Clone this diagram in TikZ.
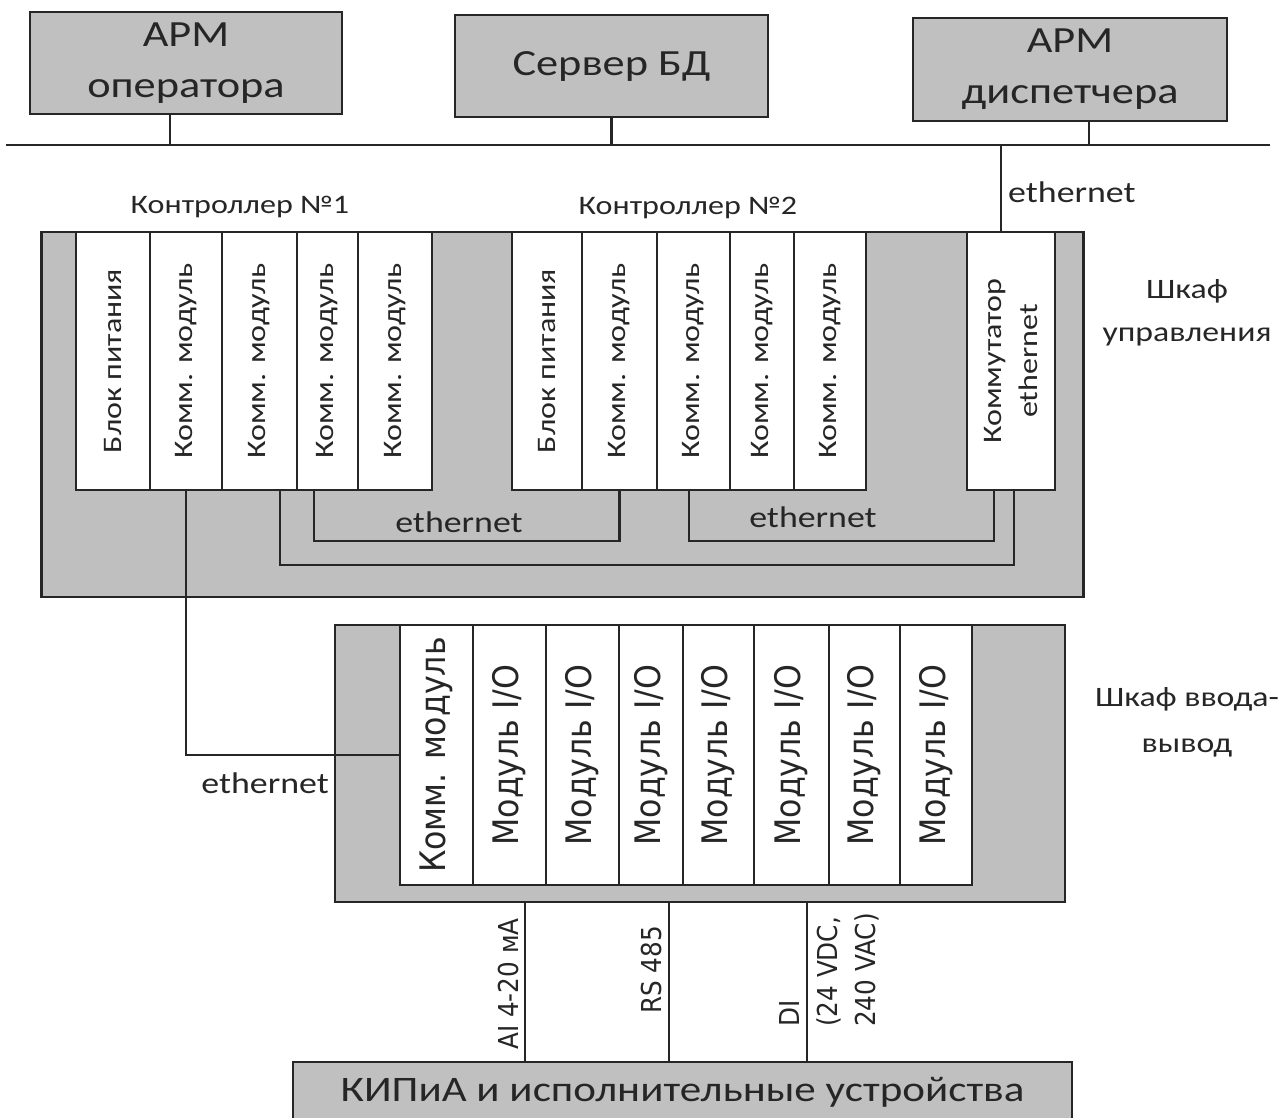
\documentclass[tikz,border=0pt]{standalone}
\usepackage{fontspec}
\setmainfont{Carlito}[FakeStretch=1.2]
\newfontfamily\iofont{DejaVu Sans}[FakeStretch=0.9]
\usepackage{xcolor}
\definecolor{ink}{HTML}{262626}
\definecolor{cabinet}{HTML}{BFBFBF}
\definecolor{station}{HTML}{C0C0C0}

\begin{document}
\begin{tikzpicture}[
    x=0.01cm, y=-0.01cm,
    color=ink,
    font=\fontsize{8}{10}\selectfont,
    wire/.style={draw=ink, line width=0.7pt},
    station/.style={draw=ink, fill=station, line width=0.7pt, inner sep=0pt, outer sep=0pt, align=center, font=\fontsize{10.5}{14.5}\selectfont},
    cabinet/.style={draw=ink, fill=cabinet, line width=0.7pt, inner sep=0pt, outer sep=0pt},
    slot/.style={draw=ink, fill=white, line width=0.7pt, rotate=90, inner sep=0pt, outer sep=0pt, align=center, minimum width=2.58cm, font=\fontsize{7.6}{10}\selectfont},
    ioslot/.style={slot, minimum width=2.60cm, font=\iofont\fontsize{10}{11}\selectfont},
    caption/.style={align=center, inner sep=1pt, font=\fontsize{8}{12.2}\selectfont},
    netlabel/.style={inner sep=1pt, font=\fontsize{8.5}{10}\selectfont},
    signal/.style={rotate=90, align=left, inner sep=1pt, font=\iofont\fontsize{7.8}{10.8}\selectfont}
]
\useasboundingbox (0,0) rectangle (1284,1117);

% Upper level: workstations and bus.
\node[station, minimum width=3.12cm, minimum height=1.02cm] (armop) at (186,63) {АРМ\\оператора};
\node[station, minimum width=3.13cm, minimum height=1.02cm] (dbsrv) at (611.5,66) {Сервер БД};
\node[station, minimum width=3.14cm, minimum height=1.03cm] (armdisp) at (1070,69.5) {АРМ\\диспетчера};

\coordinate (busL) at (6,145);
\coordinate (busR) at (1270,145);
\draw[wire] (busL) -- (busR);
\coordinate (opTap) at ([xshift=-0.16cm]armop.south);
\coordinate (dispTap) at ([xshift=0.19cm]armdisp.south);
\draw[wire] (opTap) -- (opTap |- busL);
\draw[wire] (dbsrv.south) -- (dbsrv.south |- busL);
\draw[wire] (dispTap) -- (dispTap |- busL);

% Control cabinet.
\node[cabinet, minimum width=10.41cm, minimum height=3.65cm] (ctrl) at (562.5,414.5) {};
\node[caption] (ctrlname) at (1187,313) {Шкаф\\управления};

\foreach \i/\a/\b/\txt in {1/76/150/Блок питания, 2/150/222/Комм. модуль, 3/222/297/Комм. модуль,
                           4/297/358/Комм. модуль, 5/358/432/Комм. модуль}
    \node[slot, minimum height={(\b-\a)*0.01cm}] (plcA\i) at ({(\a+\b)/2},361) {\txt};
\foreach \i/\a/\b/\txt in {1/512/582/Блок питания, 2/582/657/Комм. модуль, 3/657/730/Комм. модуль,
                           4/730/794/Комм. модуль, 5/794/866/Комм. модуль}
    \node[slot, minimum height={(\b-\a)*0.01cm}] (plcB\i) at ({(\a+\b)/2},361) {\txt};
\node[slot, minimum height=0.88cm] (switch) at (1011,361) {Коммутатор\\ethernet};

\node[netlabel, font=\fontsize{7.6}{10}\selectfont] (plcAname) at (240,207) {Контроллер №1};
\node[netlabel, font=\fontsize{7.6}{10}\selectfont] (plcBname) at (688,208) {Контроллер №2};

% Ethernet rings inside the cabinet.
\coordinate (ring1) at (0,565);
\coordinate (ring2) at (0,541);
\coordinate (e1s) at ([xshift=0.205cm]plcA3.west);
\coordinate (e1t) at ([xshift=0.03cm]switch.west);
\coordinate (e2s) at ([xshift=-0.135cm]plcA4.west);
\coordinate (e3s) at ([xshift=-0.045cm]plcB3.west);
\coordinate (e3t) at ([xshift=-0.17cm]switch.west);
\draw[wire] (e1s) -- (e1s |- ring1) -| (e1t);
\draw[wire] (e2s) -- (e2s |- ring2) -| (plcB2.west);
\draw[wire] (e3s) -- (e3s |- ring2) -| (e3t);
\node[netlabel] (ethA) at (459,522) {ethernet};
\node[netlabel] (ethB) at (813,517) {ethernet};

\coordinate (upl) at ([xshift=-0.1cm]switch.east);
\draw[wire] (upl) -- (upl |- busL);
\node[netlabel, anchor=west] (ethUp) at (1004,192) {ethernet};

% I/O cabinet.
\node[cabinet, minimum width=7.30cm, minimum height=2.77cm] (iocab) at (700,763.5) {};
\node[caption, font=\fontsize{8}{13}\selectfont] (ioname) at (1187,722) {Шкаф ввода-\\вывод};

\foreach \i/\a/\b/\txt in {0/400/473/{Комм. модуль}, 1/473/546/{Модуль I/O}, 2/546/619/{Модуль I/O},
                           3/619/683/{Модуль I/O}, 4/683/754/{Модуль I/O}, 5/754/829/{Модуль I/O},
                           6/829/900/{Модуль I/O}, 7/900/972/{Модуль I/O}}
    \node[ioslot, minimum height={(\b-\a)*0.01cm}] (io\i) at ({(\a+\b)/2},755) {\txt};

\draw[wire] (plcA2.west) |- (io0.north);
\node[netlabel, anchor=east] (ethIO) at (333,783) {ethernet};

% Field level.
\node[station, minimum width=7.79cm, minimum height=0.60cm, font=\fontsize{10.2}{12}\selectfont] (field) at (682.5,1092) {КИПиА и исполнительные устройства};

\coordinate (aiX) at (525,0);
\coordinate (rsX) at (669,0);
\coordinate (diX) at (807,0);
\foreach \s in {aiX,rsX,diX}
    \draw[wire] (iocab.south -| \s) -- (field.north -| \s);
\node[signal, anchor=south] (aiLab) at (523,984) {AI 4-20 мА};
\node[signal, anchor=south] (rsLab) at (666,970) {RS 485};
\node[signal] (diLab) at (829,970) {DI\\(24 VDC,\\240 VAC)};
\end{tikzpicture}
\end{document}
